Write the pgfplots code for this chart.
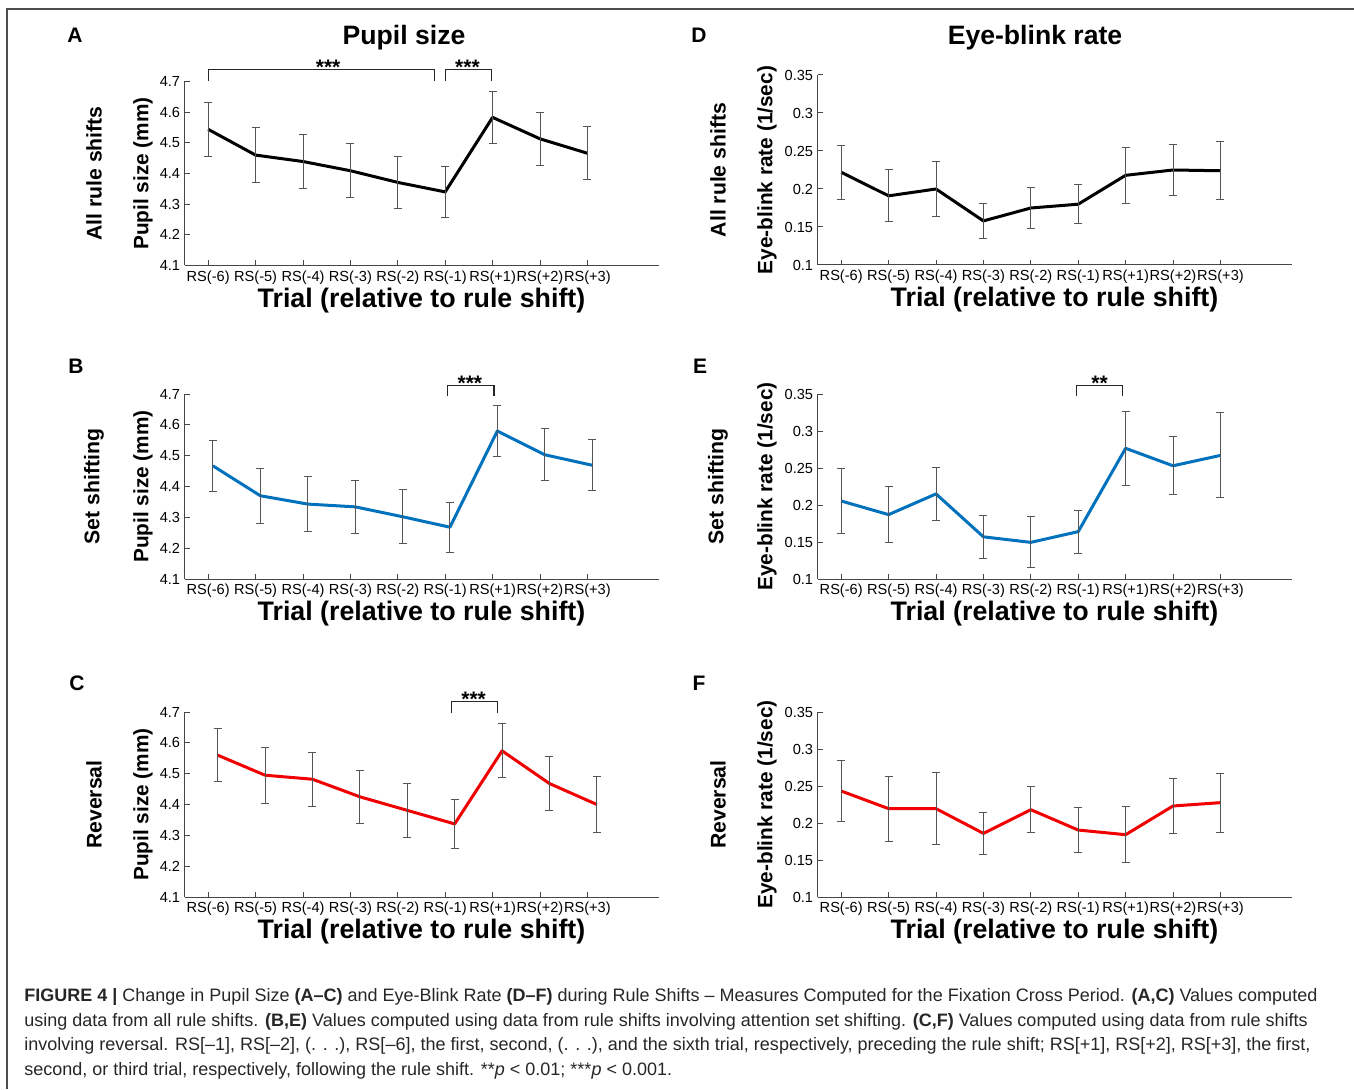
\documentclass[border=0pt]{standalone}
\usepackage{fontspec}
\setmainfont{Liberation Sans}
\usepackage{pgfplots}
\usepackage{pgfplotstable}
\pgfplotsset{compat=1.18}

\definecolor{mblue}{RGB}{0,114,189}
\definecolor{mred}{RGB}{240,0,0}
\definecolor{errgray}{RGB}{85,85,85}
\definecolor{axgray}{RGB}{70,70,70}

% Panel A: pupil size, all rule shifts
\pgfplotstableread{
x y e
1 4.544 0.087
2 4.460 0.089
3 4.439 0.087
4 4.409 0.088
5 4.371 0.086
6 4.340 0.082
7 4.583 0.084
8 4.513 0.087
9 4.466 0.086
}\tA
% Panel B: pupil size, set shifting
\pgfplotstableread{
x y e
1.1 4.467 0.083
2.1 4.370 0.090
3.1 4.343 0.089
4.1 4.334 0.087
5.1 4.302 0.087
6.1 4.268 0.081
7.1 4.580 0.083
8.1 4.503 0.084
9.1 4.469 0.082
}\tB
% Panel C: pupil size, reversal
\pgfplotstableread{
x y e
1.2 4.560 0.085
2.2 4.495 0.091
3.2 4.482 0.087
4.2 4.425 0.0865
5.2 4.381 0.087
6.2 4.337 0.0805
7.2 4.574 0.0875
8.2 4.468 0.088
9.2 4.400 0.0905
}\tC
% Panel D: eye-blink rate, all rule shifts
\pgfplotstableread{
x y e
1 0.222 0.0355
2 0.191 0.034
3 0.200 0.036
4 0.158 0.023
5 0.175 0.027
6 0.180 0.0255
7 0.218 0.037
8 0.225 0.033
9 0.224 0.038
}\tD
% Panel E: eye-blink rate, set shifting
\pgfplotstableread{
x y e
1 0.2054 0.044
2 0.187 0.038
3 0.215 0.036
4 0.157 0.029
5 0.1495 0.0345
6 0.164 0.029
7 0.2766 0.050
8 0.253 0.039
9 0.267 0.0575
}\tE
% Panel F: eye-blink rate, reversal
\pgfplotstableread{
x y e
1 0.2432 0.0415
2 0.2194 0.044
3 0.2194 0.0487
4 0.186 0.028
5 0.218 0.0315
6 0.1905 0.030
7 0.1842 0.0376
8 0.223 0.0372
9 0.2275 0.0398
}\tF

\pgfplotsset{
  panel/.style={
    scale only axis, width=237pt,
    xmin=0.5, xmax=10.5,
    axis x line*=bottom, axis y line*=left,
    axis line style={line width=0.5pt, draw=axgray},
    tick align=inside, major tick length=2.5pt,
    tick style={line width=0.5pt, draw=axgray},
    xtick={1,2,3,4,5,6,7,8,9},
    xticklabels={RS(-6),RS(-5),RS(-4),RS(-3),RS(-2),RS(-1),RS(+1),RS(+2),RS(+3)},
    tick label style={font=\fontsize{7.3}{8.5}\selectfont},
    xticklabel style={inner sep=2.4pt},
    yticklabel style={inner sep=2pt},
    /pgf/number format/assume math mode=true,
    xlabel={Trial (relative to rule shift)},
    xlabel style={font=\bfseries\fontsize{13.4}{15}\selectfont, at={(axis description cs:0.5,0)}, anchor=center, yshift=-17.5pt},
    clip=false,
  },
  pupil/.style={panel,
    ymin=4.1, ymax=4.7,
    ytick={4.1,4.2,4.3,4.4,4.5,4.6,4.7},
    yticklabels={4.1,4.2,4.3,4.4,4.5,4.6,4.7},
    ylabel={Pupil size (mm)},
    ylabel style={at={(axis description cs:-0.0876,0.5)}, anchor=center, font=\bfseries\fontsize{10.4}{12}\selectfont},
  },
  blink/.style={panel,
    ymin=0.1, ymax=0.35,
    ytick={0.1,0.15,0.2,0.25,0.3,0.35},
    yticklabels={0.1,0.15,0.2,0.25,0.3,0.35},
    ylabel={Eye-blink rate (1/sec)},
    ylabel style={at={(axis description cs:-0.1065,0.5)}, anchor=center, font=\bfseries\fontsize{10.4}{12}\selectfont},
  },
  ebar/.style={error bars/.cd, y dir=both, y explicit,
    error bar style={line width=0.5pt, draw=errgray, solid},
    error mark options={rotate=90, draw=errgray, line width=0.5pt, mark size=2pt}},
}
\tikzset{
  outer/.style={rotate=90, font=\bfseries\fontsize{10.6}{12}\selectfont, anchor=center},
  brk/.style={draw=black!85, line width=0.6pt},
  stars/.style={font=\bfseries\fontsize{10.5}{12}\selectfont, anchor=base, yshift=-2.6pt},
  letter/.style={font=\bfseries\fontsize{10.5}{12}\selectfont, anchor=center},
}

\begin{document}
\begin{tikzpicture}
\useasboundingbox (0,0) rectangle (677pt,544.5pt);
\draw[black!70, line width=0.8pt] (3.5pt,0) -- (3.5pt,540pt) -- (677pt,540pt);

% ---------- A ----------
\begin{axis}[pupil, at={(92.25pt,411.75pt)}, anchor=south west, height=92pt]
\addplot[black, line width=1.5pt, line join=round, ebar] table[x=x, y=y, y error=e] {\tA};
\draw[brk] (axis cs:1,4.703) -- (axis cs:1,4.739) -- (axis cs:5.77,4.739) -- (axis cs:5.77,4.703);
\node[stars] at (axis cs:3.53,4.739) {***};
\draw[brk] (axis cs:6,4.703) -- (axis cs:6,4.739) -- (axis cs:6.97,4.739) -- (axis cs:6.97,4.703);
\node[stars] at (axis cs:6.47,4.739) {***};
\node[outer] at (axis description cs:-0.191,0.5) {All rule shifts};
\end{axis}

% ---------- D ----------
\begin{axis}[blink, at={(408.75pt,412pt)}, anchor=south west, height=95pt]
\addplot[black, line width=1.5pt, line join=round, ebar] table[x=x, y=y, y error=e] {\tD};
\node[outer] at (axis description cs:-0.21,0.5) {All rule shifts};
\end{axis}

% ---------- B ----------
\begin{axis}[pupil, at={(92.25pt,255pt)}, anchor=south west, height=92.5pt]
\addplot[mblue, line width=1.5pt, line join=round, ebar] table[x=x, y=y, y error=e] {\tB};
\draw[brk] (axis cs:6.05,4.692) -- (axis cs:6.05,4.728) -- (axis cs:7.03,4.728) -- (axis cs:7.03,4.692);
\node[stars] at (axis cs:6.52,4.728) {***};
\node[outer] at (axis description cs:-0.191,0.5) {Set shifting};
\end{axis}

% ---------- E ----------
\begin{axis}[blink, at={(408.75pt,255pt)}, anchor=south west, height=92.5pt]
\addplot[mblue, line width=1.5pt, line join=round, ebar] table[x=x, y=y, y error=e] {\tE};
\draw[brk] (axis cs:5.96,0.347) -- (axis cs:5.96,0.362) -- (axis cs:6.94,0.362) -- (axis cs:6.94,0.347);
\node[stars] at (axis cs:6.45,0.362) {**};
\node[outer] at (axis description cs:-0.21,0.5) {Set shifting};
\end{axis}

% ---------- C ----------
\begin{axis}[pupil, at={(92.25pt,96pt)}, anchor=south west, height=92.5pt]
\addplot[mred, line width=1.5pt, line join=round, ebar] table[x=x, y=y, y error=e] {\tC};
\draw[brk] (axis cs:6.14,4.698) -- (axis cs:6.14,4.734) -- (axis cs:7.1,4.734) -- (axis cs:7.1,4.698);
\node[stars] at (axis cs:6.6,4.734) {***};
\node[outer] at (axis description cs:-0.191,0.5) {Reversal};
\end{axis}

% ---------- F ----------
\begin{axis}[blink, at={(408.75pt,96pt)}, anchor=south west, height=92.5pt]
\addplot[mred, line width=1.5pt, line join=round, ebar] table[x=x, y=y, y error=e] {\tF};
\node[outer] at (axis description cs:-0.21,0.5) {Reversal};
\end{axis}

% titles and panel letters
\node[font=\bfseries\fontsize{13.3}{15}\selectfont, anchor=center] at (202pt,525.5pt) {Pupil size};
\node[font=\bfseries\fontsize{13.3}{15}\selectfont, anchor=center] at (517.5pt,525.5pt) {Eye-blink rate};
\node[letter] at (37.5pt,527pt) {A};
\node[letter] at (38pt,361.5pt) {B};
\node[letter] at (38.5pt,203pt) {C};
\node[letter] at (349.5pt,527pt) {D};
\node[letter] at (350pt,361.5pt) {E};
\node[letter] at (349.5pt,203pt) {F};

% caption
\begin{scope}[every node/.style={anchor=base west, inner sep=0pt, font=\fontsize{9}{11}\selectfont, color=black!85}]
\node at (12pt,44pt) {\textbf{FIGURE 4 |} Change in Pupil Size \textbf{(A–C)} and Eye-Blink Rate \textbf{(D–F)} during Rule Shifts – Measures Computed for the Fixation Cross Period. \textbf{(A,C)} Values computed};
\node at (12pt,31.5pt) {using data from all rule shifts. \textbf{(B,E)} Values computed using data from rule shifts involving attention set shifting. \textbf{(C,F)} Values computed using data from rule shifts};
\node at (12pt,19.5pt) {involving reversal. RS[–1], RS[–2], (. . .), RS[–6], the first, second, (. . .), and the sixth trial, respectively, preceding the rule shift; RS[+1], RS[+2], RS[+3], the first,};
\node at (12pt,7pt) {second, or third trial, respectively, following the rule shift. **\textit{p} < 0.01; ***\textit{p} < 0.001.};
\end{scope}
\end{tikzpicture}
\end{document}
